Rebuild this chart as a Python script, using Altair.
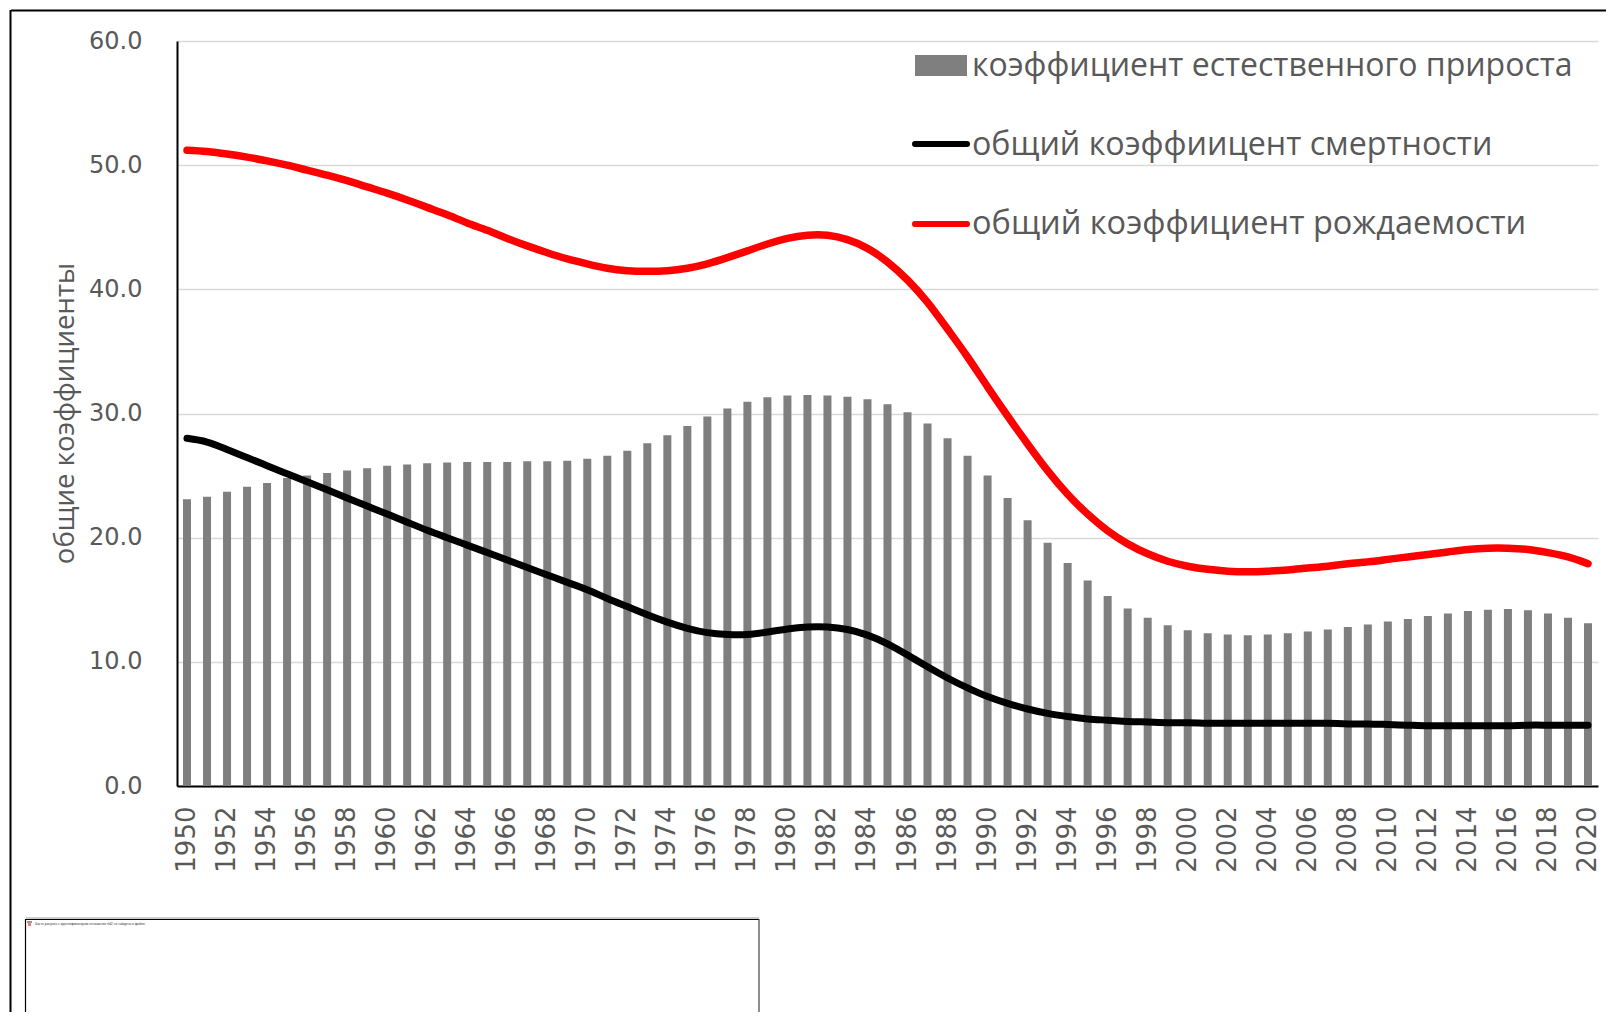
import altair as alt
import pandas as pd

years = list(range(1950, 2021))
natural = [23.1,23.3,23.7,24.1,24.4,24.8,25.0,25.2,25.4,25.6,
           25.8,25.9,26.0,26.05,26.1,26.1,26.1,26.15,26.15,26.2,
           26.35,26.6,27.0,27.6,28.25,29.0,29.75,30.4,30.95,31.3,
           31.45,31.5,31.45,31.35,31.15,30.75,30.1,29.2,28.0,26.6,
           25.0,23.2,21.4,19.6,17.95,16.55,15.3,14.3,13.55,12.95,
           12.55,12.3,12.2,12.15,12.2,12.3,12.45,12.6,12.8,13.0,
           13.25,13.45,13.7,13.9,14.1,14.2,14.25,14.15,13.9,13.55,
           13.1]
birth = [51.2,51.1,50.9,50.65,50.35,50.0,49.6,49.2,48.75,48.25,
         47.75,47.2,46.6,46.0,45.35,44.75,44.1,43.5,42.95,42.45,
         42.05,41.7,41.5,41.45,41.5,41.7,42.05,42.55,43.1,43.65,
         44.1,44.35,44.35,44.0,43.3,42.2,40.75,38.95,36.8,34.55,
         32.15,29.8,27.55,25.4,23.5,21.9,20.55,19.5,18.7,18.1,
         17.7,17.45,17.3,17.25,17.3,17.4,17.55,17.7,17.9,18.05,
         18.25,18.45,18.65,18.85,19.05,19.15,19.15,19.05,18.8,18.45,
         17.9]
death = [28.0,27.7,27.1,26.45,25.8,25.15,24.5,23.85,23.2,22.55,
         21.9,21.25,20.6,20.0,19.4,18.8,18.2,17.6,17.0,16.4,
         15.8,15.1,14.45,13.8,13.2,12.7,12.35,12.2,12.2,12.4,
         12.65,12.8,12.8,12.6,12.15,11.45,10.55,9.6,8.7,7.9,
         7.2,6.65,6.2,5.85,5.6,5.4,5.3,5.2,5.15,5.1,
         5.1,5.05,5.05,5.05,5.05,5.05,5.05,5.05,5.0,5.0,
         4.95,4.9,4.85,4.85,4.85,4.85,4.85,4.9,4.9,4.9,
         4.9]
year_ticks = [str(y) for y in years[::2]]
y_ticks = [0, 10, 20, 30, 40, 50, 60]
legend_labels = ["коэффициент естественного прироста",
                 "общий коэффиицент смертности",
                 "общий коэффициент рождаемости"]
axis_title = "общие коэффициенты"
missing_text = "Часть рисунка с идентификатором отношения rId2 не найдена в файле."

TEXT = "#595959"
df = pd.DataFrame({"year": [str(y) for y in years], "natural": natural,
                   "birth": birth, "death": death})

x = alt.X("year:N", sort=None,
          scale=alt.Scale(paddingInner=0, paddingOuter=0),
          axis=alt.Axis(title=None, values=year_ticks, labelAngle=270,
                        labelFont="DejaVu Sans", labelFontSize=26, labelColor=TEXT,
                        labelPadding=20, labelOverlap=False, labelAlign="right",
                        labelBaseline="middle", ticks=False,
                        domainColor="black", domainWidth=2, grid=False))
y_scale = alt.Scale(domain=[0, 60], nice=False)

bars = alt.Chart(df).mark_bar(color="#7f7f7f", size=8).encode(
    x=x,
    y=alt.Y("natural:Q", scale=y_scale,
            axis=alt.Axis(title=axis_title, values=y_ticks, format=".1f",
                          labelFont="DejaVu Sans", labelFontSize=24, labelColor=TEXT,
                          labelPadding=35, ticks=False, domainColor="black", domainWidth=2,
                          grid=True, gridColor="#d9d9d9", gridWidth=1.5,
                          titleFont="Open Sans", titleFontSize=27.6, titleFontWeight="normal",
                          titleColor=TEXT, titleX=-112, titleY=372, titleAngle=270,
                          titleAlign="center", titleBaseline="middle")))

death_line = alt.Chart(df).mark_line(color="black", strokeWidth=7, strokeCap="round",
                                     interpolate="natural").encode(
    x=x, y=alt.Y("death:Q", scale=y_scale))
birth_line = alt.Chart(df).mark_line(color="#ff0000", strokeWidth=7.5, strokeCap="round",
                                     interpolate="natural").encode(
    x=x, y=alt.Y("birth:Q", scale=y_scale))

# Plot origin on the page is (177, 41); the helpers below work in page pixels.
def px(v): return alt.value(v - 177)
def py(v): return alt.value(v - 41)

def text(label, left, mid, size, font="Open Sans", color=TEXT):
    return alt.Chart(df.head(1)).mark_text(text=label, align="left", baseline="middle",
                                           font=font, fontSize=size, color=color).encode(
        x=px(left), y=py(mid))

def rect(l, r, t, b, **kw):
    return alt.Chart(df.head(1)).mark_rect(**kw).encode(x=px(l), x2=px(r), y=py(t), y2=py(b))

def rule(l, r, t, b, color, width, cap="butt"):
    return alt.Chart(df.head(1)).mark_rule(color=color, strokeWidth=width, strokeCap=cap).encode(
        x=px(l), x2=px(r), y=py(t), y2=py(b))

legend = [
    rect(915, 967, 55, 76, color="#7f7f7f"),
    rule(915, 967, 144, 144, "black", 6, "round"),
    rule(915, 967, 224, 224, "#ff0000", 6, "round"),
    text(legend_labels[0], 972, 65.5, 32),
    text(legend_labels[1], 972, 144.5, 32.2),
    text(legend_labels[2], 972, 223.5, 32.5),
]

frame = [
    rule(11, 1620, 10.5, 10.5, "black", 2),
    rule(10.5, 10.5, 10, 1030, "black", 2),
]
box = [
    rule(26, 759, 918, 918, "#9a9a9a", 1),
    rule(26, 759, 919.5, 919.5, "black", 1),
    rule(25.5, 25.5, 919, 1030, "black", 1.2),
    rule(759, 759, 919, 1030, "#444444", 1.2),
    rect(27, 32, 921, 923, color="#999999"),
    rect(28, 31, 923, 926, color="#f08080"),
    text(missing_text, 35, 923.5, 3.3, font="Liberation Sans", color="#333333"),
]

chart = alt.layer(bars, death_line, birth_line, *legend, *frame, *box).resolve_scale(
    y="shared"
).properties(
    width=1421, height=745,
    autosize=alt.AutoSizeParams(type="none"),
    padding={"left": 169, "top": 33, "right": 8, "bottom": 226},
    background="white",
).configure_view(stroke=None)

chart.save("out.html", embed_options={"renderer": "svg", "actions": False})
